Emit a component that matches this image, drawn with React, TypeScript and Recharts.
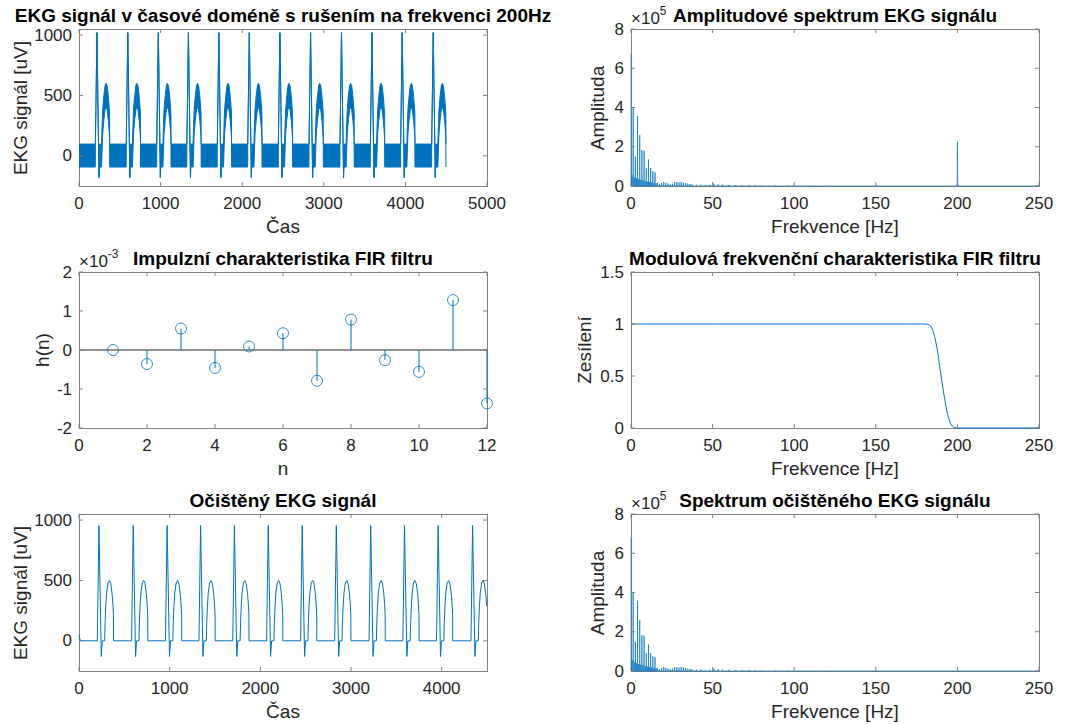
import React from 'react';
import { ComposedChart, LineChart, Line, Area, XAxis, YAxis, Scatter, ReferenceLine } from 'recharts';

const BLUE = '#0072BD';
const TEXT = '#262626';
const BOX = '#808080';
const FONT = '"Liberation Sans", Arial, Helvetica, sans-serif';

// ---------------- EKG signal (time domain) ----------------
const beatTimes = [220, 598, 972, 1341, 1714, 2087, 2462, 2838, 3217, 3590, 3961, 4341];

// noisy signal: envelope of 200 Hz interference [low, high], offsets relative to R peak
const noisyStartTime = [0];
const noisyStartLow = [-93];
const noisyStartHigh = [97];
const noisyBeatOffset = [-20, -19, 0, 25, 30, 57, 63, 70, 85, 100, 111, 125, 140, 150, 155, 156];
const noisyBeatLow = [-93, 95, 1020, -180, -93, -93, 40, 180, 300, 385, 400, 380, 290, 200, 150, -93];
const noisyBeatHigh = [97, 97, 1020, -180, 97, 97, 250, 380, 500, 585, 600, 580, 490, 400, 350, 97];

// clean (filtered) signal
const cleanStartTime = [0, 15];
const cleanStartValue = [45, 0];
const cleanBeatOffset = [-18, 0, 26, 37, 63, 68, 75, 85, 100, 115, 130, 145, 155, 160, 161];
const cleanBeatValue = [0, 955, -130, 0, 0, 150, 280, 400, 480, 500, 475, 390, 290, 210, 0];
const cleanEndTime = 4500;

const ekgTimeTicks = [0, 1000, 2000, 3000, 4000, 5000];
const ekgCleanTimeTicks = [0, 1000, 2000, 3000, 4000];
const ekgValueTicks = [0, 500, 1000];

// ---------------- Spectrum ----------------
const specFreq = [0, 0.67, 1.34, 2.01, 2.67, 3.34, 4.01, 4.68, 5.35, 6.02, 6.68, 7.35, 8.02, 8.69, 9.36, 10.03, 10.7, 11.36, 12.03, 12.7,
  13.37, 14.04, 14.71, 15.37, 16.04, 17.38, 18.72, 20.05, 21.39, 22.73, 24.07, 25.4, 26.74, 28.08, 29.41, 30.75, 32.09, 33.43, 34.76, 36.1,
  37.44, 40.11, 42.78, 45.45, 48.13, 50.8, 53.48, 56.15, 60.16, 64.17, 68.18, 72.19, 76.2, 80.21, 88.24, 96.26, 108.3, 120.3];
const specAmp = [6.75e5, 0.55e5, 4.0e5, 0.45e5, 1.5e5, 0.4e5, 3.57e5, 0.35e5, 2.6e5, 0.32e5, 1.82e5, 0.3e5, 1.8e5, 0.25e5, 0.9e5, 0.22e5, 1.35e5, 0.2e5, 0.92e5, 0.18e5,
  0.75e5, 0.15e5, 0.7e5, 0.12e5, 0.15e5, 0.1e5, 0.15e5, 0.2e5, 0.16e5, 0.12e5, 0.08e5, 0.12e5, 0.2e5, 0.2e5, 0.18e5, 0.2e5, 0.17e5, 0.15e5, 0.12e5, 0.1e5,
  0.08e5, 0.06e5, 0.07e5, 0.05e5, 0.06e5, 0.12e5, 0.09e5, 0.07e5, 0.06e5, 0.05e5, 0.04e5, 0.05e5, 0.04e5, 0.03e5, 0.03e5, 0.02e5, 0.02e5, 0.015e5];
const interferenceFreq = [199, 199.6, 199.85, 200, 200.15, 200.4, 201];
const interferenceAmp = [0, 0.05e5, 0.12e5, 2.25e5, 0.12e5, 0.05e5, 0];
const SPIKE_HALF_WIDTH = 0.06;

const freqTicks = [0, 50, 100, 150, 200, 250];
const ampTicks = [0, 2e5, 4e5, 6e5, 8e5];

// ---------------- FIR filter ----------------
const impulseN = [1, 2, 3, 4, 5, 6, 7, 8, 9, 10, 11, 12];
const impulseH = [0.0, -0.36e-3, 0.55e-3, -0.46e-3, 0.09e-3, 0.43e-3, -0.79e-3, 0.78e-3, -0.26e-3, -0.56e-3, 1.28e-3, -1.37e-3];
const sampleTicks = [0, 2, 4, 6, 8, 10, 12];
const impulseTicks = [-2e-3, -1e-3, 0, 1e-3, 2e-3];

const filterFreq = [0, 50, 100, 150, 170, 180, 182, 184, 186, 188, 190, 192, 194, 196, 198, 200, 225, 250];
const filterGain = [1, 1, 1, 1, 1, 1, 0.995, 0.97, 0.88, 0.72, 0.5, 0.3, 0.13, 0.04, 0.005, 0, 0, 0];
const gainTicks = [0, 0.5, 1, 1.5];

// ---------------- tables ----------------
const noisyData: { t: number; band: [number, number] }[] = [];
noisyStartTime.forEach((t, i) => noisyData.push({ t, band: [noisyStartLow[i], noisyStartHigh[i]] }));
beatTimes.forEach((bt) =>
  noisyBeatOffset.forEach((o, i) => noisyData.push({ t: bt + o, band: [noisyBeatLow[i], noisyBeatHigh[i]] }))
);

const cleanData: { t: number; v: number }[] = [];
cleanStartTime.forEach((t, i) => cleanData.push({ t, v: cleanStartValue[i] }));
beatTimes.forEach((bt) =>
  cleanBeatOffset.forEach((o, i) => {
    const t = bt + o;
    if (t <= cleanEndTime) cleanData.push({ t, v: cleanBeatValue[i] });
  })
);

function buildSpectrum(freqs: number[], amps: number[], extraF: number[], extraA: number[]) {
  const pts: { f: number; a: number }[] = [];
  freqs.forEach((f, i) => {
    if (f - SPIKE_HALF_WIDTH >= 0) pts.push({ f: f - SPIKE_HALF_WIDTH, a: 0 });
    pts.push({ f, a: amps[i] });
    pts.push({ f: f + SPIKE_HALF_WIDTH, a: 0 });
  });
  extraF.forEach((f, i) => pts.push({ f, a: extraA[i] }));
  pts.push({ f: 250, a: 0 });
  pts.sort((p, q) => p.f - q.f);
  return pts;
}
const rawSpectrum = buildSpectrum(specFreq, specAmp, interferenceFreq, interferenceAmp);
const cleanSpectrum = buildSpectrum(specFreq, specAmp, [], []);

const impulseData = impulseN.map((n, i) => ({ n, h: impulseH[i] }));
const filterData = filterFreq.map((f, i) => ({ f, g: filterGain[i] }));

// ---------------- layout helpers ----------------
type Box = { l: number; t: number; w: number; h: number };
const YAW = 60;
const TM = 8;
const RM = 30;
const XAH = 36;
const TICK_LEN = 4;

const boxTL: Box = { l: 79, t: 29, w: 408, h: 157 };
const boxTR: Box = { l: 631, t: 29, w: 408, h: 157 };
const boxML: Box = { l: 79, t: 272, w: 408, h: 156 };
const boxMR: Box = { l: 631, t: 272, w: 408, h: 156 };
const boxBL: Box = { l: 79, t: 514, w: 408, h: 157 };
const boxBR: Box = { l: 631, t: 514, w: 408, h: 157 };

function XTick(props: any) {
  const { x, y, payload, plotH, fmt } = props;
  const label = fmt ? fmt(payload.value) : String(payload.value);
  return (
    <g>
      <line x1={x} x2={x} y1={y} y2={y - TICK_LEN} stroke={BOX} strokeWidth={1} />
      <line x1={x} x2={x} y1={y - plotH} y2={y - plotH + TICK_LEN} stroke={BOX} strokeWidth={1} />
      <text x={x} y={y + 17} textAnchor="middle" dominantBaseline="central" fill={TEXT} fontSize={17} fontFamily={FONT}>
        {label}
      </text>
    </g>
  );
}

function YTick(props: any) {
  const { x, y, payload, plotW, fmt } = props;
  const label = fmt ? fmt(payload.value) : String(payload.value);
  return (
    <g>
      <line x1={x} x2={x + TICK_LEN} y1={y} y2={y} stroke={BOX} strokeWidth={1} />
      <line x1={x + plotW} x2={x + plotW - TICK_LEN} y1={y} y2={y} stroke={BOX} strokeWidth={1} />
      <text x={x - 7} y={y} textAnchor="end" dominantBaseline="central" fill={TEXT} fontSize={17} fontFamily={FONT}>
        {label}
      </text>
    </g>
  );
}

function axes(box: Box, xKey: string, xDomain: [number, number], xTicks: number[], yDomain: [number, number], yTicks: number[], yFmt?: (v: number) => string) {
  return [
    <XAxis
      key="x"
      dataKey={xKey}
      type="number"
      domain={xDomain}
      ticks={xTicks}
      interval={0}
      tickSize={0}
      tickMargin={0}
      tickLine={false}
      axisLine={false}
      height={XAH}
      tick={<XTick plotH={box.h} />}
    />,
    <YAxis
      key="y"
      type="number"
      domain={yDomain}
      ticks={yTicks}
      interval={0}
      tickSize={0}
      tickMargin={0}
      tickLine={false}
      axisLine={false}
      width={YAW}
      tick={<YTick plotW={box.w} fmt={yFmt} />}
    />,
  ];
}

function chartSize(box: Box) {
  return {
    width: box.w + YAW + RM,
    height: box.h + TM + XAH,
    margin: { top: TM, right: RM, left: 0, bottom: 0 },
  };
}

function CenterText({ x, y, children, size = 19, bold = false, rotate = false, color = TEXT }: any) {
  return (
    <div
      style={{
        position: 'absolute',
        left: x,
        top: y,
        transform: `translate(-50%, -50%)${rotate ? ' rotate(-90deg)' : ''}`,
        whiteSpace: 'nowrap',
        fontFamily: FONT,
        fontSize: size,
        fontWeight: bold ? 'bold' : 'normal',
        color,
        lineHeight: 1,
      }}
    >
      {children}
    </div>
  );
}

function ExpLabel({ x, y, exp }: { x: number; y: number; exp: string }) {
  return (
    <div
      style={{
        position: 'absolute',
        left: x,
        top: y,
        transform: 'translateY(-50%)',
        whiteSpace: 'nowrap',
        fontFamily: FONT,
        fontSize: 17,
        color: TEXT,
        lineHeight: 1,
      }}
    >
      ×10<sup style={{ fontSize: 12, verticalAlign: 'top', position: 'relative', top: -5 }}>{exp}</sup>
    </div>
  );
}

function Panel({ box, title, xLabel, yLabel, yLabelX, exp, children }: any) {
  return (
    <>
      <div
        style={{
          position: 'absolute',
          left: box.l,
          top: box.t,
          width: box.w + 1,
          height: box.h + 1,
          border: `1px solid ${BOX}`,
          boxSizing: 'border-box',
        }}
      />
      <div style={{ position: 'absolute', left: box.l - YAW, top: box.t - TM }}>{children}</div>
      <CenterText x={box.l + box.w / 2} y={box.t - 14} bold color="#000">
        {title}
      </CenterText>
      <CenterText x={box.l + box.w / 2} y={box.t + box.h + 40}>
        {xLabel}
      </CenterText>
      <CenterText x={yLabelX} y={box.t + box.h / 2} rotate>
        {yLabel}
      </CenterText>
      {exp ? <ExpLabel x={box.l} y={box.t - 11} exp={exp} /> : null}
    </>
  );
}

const fmtE5 = (v: number) => String(Math.round(v / 1e5));
const fmtEm3 = (v: number) => String(Math.round(v * 1e3));

export default function App() {
  return (
    <div style={{ position: 'absolute', left: 0, top: 0, width: 1075, height: 724, background: '#fff', overflow: 'hidden' }}>
      {/* Top left: noisy EKG */}
      <Panel box={boxTL} title="EKG signál v časové doméně s rušením na frekvenci 200Hz" xLabel="Čas" yLabel="EKG signál [uV]" yLabelX={20}>
        <ComposedChart {...chartSize(boxTL)} data={noisyData}>
          {axes(boxTL, 't', [0, 5000], ekgTimeTicks, [-250, 1050], ekgValueTicks)}
          <Area
            dataKey="band"
            type="linear"
            stroke={BLUE}
            strokeWidth={1}
            fill={BLUE}
            fillOpacity={1}
            dot={false}
            activeDot={false}
            isAnimationActive={false}
          />
        </ComposedChart>
      </Panel>

      {/* Top right: spectrum */}
      <Panel box={boxTR} title="Amplitudové spektrum EKG signálu" xLabel="Frekvence [Hz]" yLabel="Amplituda" yLabelX={597} exp="5">
        <LineChart {...chartSize(boxTR)} data={rawSpectrum}>
          {axes(boxTR, 'f', [0, 250], freqTicks, [0, 8e5], ampTicks, fmtE5)}
          <Line dataKey="a" type="linear" stroke={BLUE} strokeWidth={0.9} strokeOpacity={0.75} dot={false} activeDot={false} isAnimationActive={false} />
        </LineChart>
      </Panel>

      {/* Middle left: impulse response */}
      <Panel box={boxML} title="Impulzní charakteristika FIR filtru" xLabel="n" yLabel="h(n)" yLabelX={42} exp="-3">
        <ComposedChart {...chartSize(boxML)} data={impulseData}>
          {axes(boxML, 'n', [0, 12], sampleTicks, [-2e-3, 2e-3], impulseTicks, fmtEm3)}
          <ReferenceLine y={0} stroke="#6e6e6e" strokeWidth={1.5} />
          {impulseN.map((n, i) => (
            <ReferenceLine
              key={n}
              segment={[
                { x: n, y: 0 },
                { x: n, y: impulseH[i] },
              ]}
              stroke={BLUE}
              strokeWidth={1}
            />
          ))}
          <Scatter
            dataKey="h"
            isAnimationActive={false}
            shape={(p: any) => <circle cx={p.cx} cy={p.cy} r={5.5} fill="none" stroke={BLUE} strokeWidth={1} strokeOpacity={0.8} />}
          />
        </ComposedChart>
      </Panel>

      {/* Middle right: frequency response */}
      <Panel box={boxMR} title="Modulová frekvenční charakteristika FIR filtru" xLabel="Frekvence [Hz]" yLabel="Zesílení" yLabelX={584}>
        <LineChart {...chartSize(boxMR)} data={filterData}>
          {axes(boxMR, 'f', [0, 250], freqTicks, [0, 1.5], gainTicks)}
          <Line dataKey="g" type="monotone" stroke={BLUE} strokeWidth={1} dot={false} activeDot={false} isAnimationActive={false} />
        </LineChart>
      </Panel>

      {/* Bottom left: clean EKG */}
      <Panel box={boxBL} title="Očištěný EKG signál" xLabel="Čas" yLabel="EKG signál [uV]" yLabelX={20}>
        <LineChart {...chartSize(boxBL)} data={cleanData}>
          {axes(boxBL, 't', [0, 4500], ekgCleanTimeTicks, [-250, 1050], ekgValueTicks)}
          <Line dataKey="v" type="linear" stroke={BLUE} strokeWidth={1} dot={false} activeDot={false} isAnimationActive={false} />
        </LineChart>
      </Panel>

      {/* Bottom right: clean spectrum */}
      <Panel box={boxBR} title="Spektrum očištěného EKG signálu" xLabel="Frekvence [Hz]" yLabel="Amplituda" yLabelX={597} exp="5">
        <LineChart {...chartSize(boxBR)} data={cleanSpectrum}>
          {axes(boxBR, 'f', [0, 250], freqTicks, [0, 8e5], ampTicks, fmtE5)}
          <Line dataKey="a" type="linear" stroke={BLUE} strokeWidth={0.9} strokeOpacity={0.75} dot={false} activeDot={false} isAnimationActive={false} />
        </LineChart>
      </Panel>
    </div>
  );
}
